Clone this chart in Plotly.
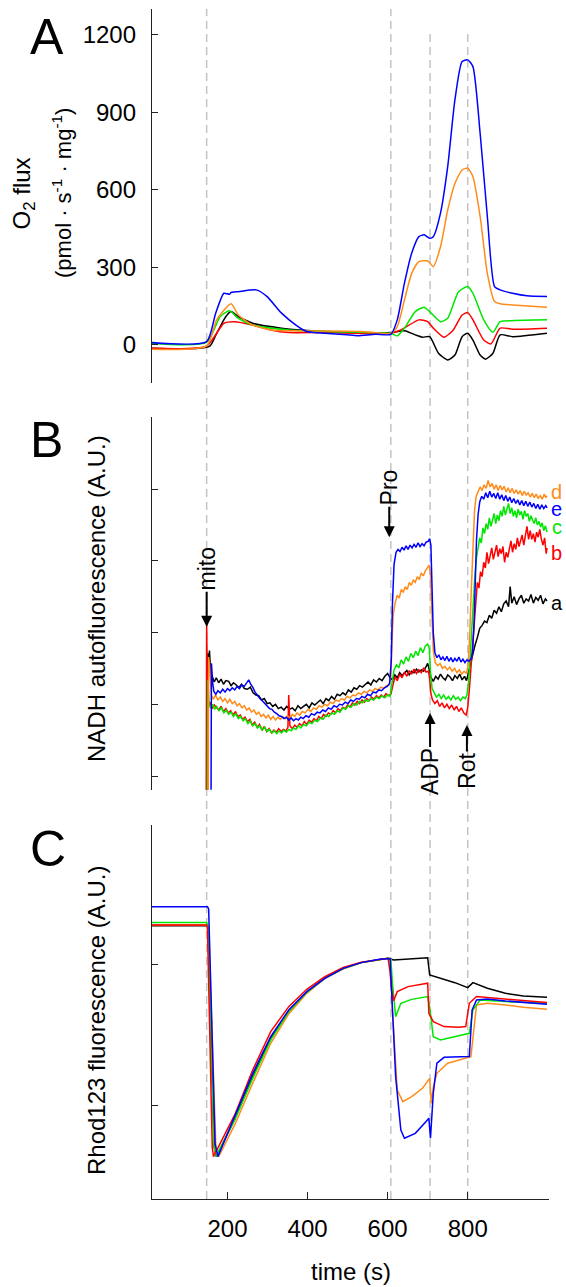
import plotly.graph_objects as go

# ---------------- Panel A: O2 flux ----------------
A_black_x = [11, 155, 173, 196, 209, 227, 263, 335, 443, 534, 608, 642, 669, 687, 705, 727, 750, 768, 786, 800, 813, 831, 845, 863, 881, 912, 998]
A_black_y = [-13, -6, 45, 110, 129, 110, 84, 65, 52, 48, 48, 55, 39, 30, 32, -32, -58, -39, 32, 45, 19, -39, -55, -32, 39, 32, 45]
A_red_x = [11, 148, 191, 218, 263, 308, 353, 443, 608, 633, 678, 700, 714, 741, 764, 786, 800, 813, 840, 858, 881, 912, 998]
A_red_y = [-13, -4, 84, 90, 77, 58, 48, 48, 45, 58, 97, 90, 65, 30, 58, 116, 125, 97, 19, 4, 65, 61, 65]
A_green_x = [11, 148, 182, 205, 227, 263, 353, 443, 534, 608, 624, 642, 669, 691, 705, 732, 750, 777, 800, 813, 840, 863, 881, 912, 998]
A_green_y = [6, 10, 110, 132, 103, 77, 58, 52, 49, 45, 35, 65, 129, 146, 129, 90, 103, 206, 226, 200, 97, 49, 90, 94, 97]
A_orange_x = [11, 148, 173, 209, 227, 263, 308, 353, 443, 534, 608, 624, 642, 660, 678, 700, 714, 732, 750, 768, 786, 800, 813, 831, 849, 867, 881, 912, 998]
A_orange_y = [-17, -4, 97, 159, 116, 77, 58, 55, 54, 52, 45, 71, 174, 277, 322, 325, 303, 380, 522, 625, 677, 684, 651, 497, 277, 168, 159, 155, 146]
A_blue_x = [11, 148, 170, 191, 205, 209, 227, 272, 299, 335, 371, 398, 443, 498, 525, 570, 608, 624, 642, 660, 678, 691, 705, 714, 732, 750, 768, 786, 800, 813, 831, 849, 867, 881, 912, 948, 998]
A_blue_y = [9, 13, 120, 200, 196, 203, 206, 213, 187, 123, 77, 52, 45, 39, 36, 41, 41, 97, 239, 355, 419, 426, 413, 419, 510, 690, 948, 1097, 1103, 1077, 819, 497, 226, 213, 200, 190, 187]
A_ticks = [0, 300, 600, 900, 1200]

# ---------------- Panel B: NADH autofluorescence (A.U.), (time, value) readings ----------------
B_black = [(150, -0.19), (151, 1.71), (153, 1.55), (155, 1.75), (158, 1.45), (162, 1.38), (167, 1.31), (172, 1.37), (178, 1.30), (184, 1.35), (190, 1.28), (196, 1.33), (203, 1.32), (209, 1.26), (215, 1.30), (222, 1.27), (228, 1.23), (235, 1.28), (242, 1.22), (250, 1.21), (257, 1.24), (264, 1.16), (271, 1.13), (278, 1.12), (285, 1.06), (292, 1.08), (299, 1.01), (306, 1.02), (313, 0.97), (320, 1.00), (327, 0.94), (334, 0.96), (341, 0.92), (348, 0.97), (355, 0.93), (362, 0.95), (369, 0.91), (376, 0.98), (383, 0.94), (390, 0.97), (397, 1.00), (404, 0.95), (411, 1.02), (418, 0.99), (425, 1.03), (432, 1.06), (439, 1.01), (446, 1.08), (453, 1.05), (460, 1.11), (467, 1.07), (474, 1.14), (481, 1.12), (488, 1.16), (495, 1.13), (502, 1.20), (509, 1.17), (516, 1.23), (523, 1.21), (530, 1.26), (537, 1.24), (544, 1.28), (551, 1.31), (558, 1.27), (565, 1.34), (572, 1.31), (579, 1.36), (586, 1.33), (593, 1.39), (600, 1.43), (606, 1.37), (612, 1.34), (618, 1.41), (624, 1.37), (630, 1.44), (636, 1.40), (642, 1.43), (648, 1.47), (654, 1.41), (660, 1.46), (666, 1.44), (672, 1.49), (678, 1.45), (684, 1.48), (690, 1.46), (696, 1.52), (700, 1.57), (704, 1.48), (708, 1.38), (714, 1.32), (720, 1.39), (726, 1.35), (732, 1.42), (738, 1.37), (744, 1.34), (750, 1.41), (756, 1.38), (762, 1.33), (768, 1.40), (774, 1.36), (780, 1.42), (786, 1.34), (792, 1.39), (797, 1.33), (802, 1.45), (807, 1.55), (812, 1.66), (818, 1.82), (824, 1.93), (830, 2.06), (836, 2.10), (842, 2.16), (848, 2.14), (854, 2.24), (860, 2.20), (866, 2.31), (872, 2.27), (878, 2.36), (884, 2.29), (890, 2.40), (896, 2.44), (902, 2.36), (906, 2.64), (910, 2.41), (916, 2.50), (922, 2.39), (928, 2.47), (934, 2.52), (940, 2.41), (946, 2.47), (952, 2.44), (958, 2.53), (964, 2.41), (970, 2.49), (976, 2.45), (982, 2.52), (988, 2.40), (994, 2.47), (998, 2.44)]
B_red = [(147, -0.19), (148, 2.13), (150, 1.10), (153, 0.98), (157, 1.03), (162, 0.94), (167, 0.99), (172, 0.95), (178, 0.92), (184, 0.97), (190, 0.90), (196, 0.94), (202, 0.88), (208, 0.91), (214, 0.85), (220, 0.90), (226, 0.83), (232, 0.85), (238, 0.79), (244, 0.82), (250, 0.76), (256, 0.79), (262, 0.71), (268, 0.75), (274, 0.68), (280, 0.72), (286, 0.64), (292, 0.69), (298, 0.62), (304, 0.66), (310, 0.60), (316, 0.64), (322, 0.61), (328, 0.66), (334, 0.62), (340, 0.65), (346, 0.63), (351, 0.68), (353, 1.13), (356, 0.70), (362, 0.66), (368, 0.71), (374, 0.68), (380, 0.73), (386, 0.70), (392, 0.76), (398, 0.72), (404, 0.78), (410, 0.75), (416, 0.80), (422, 0.77), (428, 0.83), (434, 0.80), (440, 0.86), (446, 0.83), (452, 0.88), (458, 0.86), (464, 0.91), (470, 0.88), (476, 0.94), (482, 0.91), (488, 0.96), (494, 0.94), (500, 0.99), (506, 0.96), (512, 1.02), (518, 0.99), (524, 1.04), (530, 1.01), (536, 1.06), (542, 1.03), (548, 1.08), (554, 1.05), (560, 1.10), (566, 1.07), (572, 1.12), (578, 1.09), (584, 1.13), (590, 1.10), (596, 1.15), (602, 1.12), (608, 1.14), (613, 1.28), (618, 1.38), (624, 1.33), (630, 1.42), (636, 1.37), (642, 1.45), (648, 1.39), (654, 1.47), (660, 1.42), (666, 1.49), (672, 1.43), (678, 1.48), (684, 1.44), (690, 1.51), (696, 1.45), (702, 1.46), (705, 1.35), (708, 1.15), (712, 1.06), (718, 1.01), (724, 1.05), (730, 0.97), (736, 1.02), (742, 0.95), (748, 1.00), (754, 0.94), (760, 0.99), (766, 0.92), (772, 0.97), (778, 0.90), (784, 0.95), (790, 0.88), (796, 0.85), (800, 0.95), (804, 1.20), (808, 1.50), (812, 1.80), (816, 2.10), (820, 2.45), (824, 2.70), (828, 2.62), (832, 2.85), (836, 2.78), (840, 2.98), (844, 2.90), (848, 3.12), (852, 2.96), (856, 3.08), (860, 3.18), (864, 3.02), (868, 3.14), (872, 3.22), (876, 3.06), (880, 3.17), (884, 3.10), (888, 3.20), (892, 2.98), (896, 3.12), (900, 3.05), (904, 3.18), (908, 3.28), (912, 3.12), (916, 3.24), (920, 3.16), (924, 3.32), (928, 3.20), (932, 3.30), (936, 3.36), (940, 3.22), (944, 3.34), (948, 3.48), (952, 3.30), (956, 3.42), (960, 3.30), (964, 3.38), (968, 3.26), (972, 3.40), (976, 3.33), (980, 3.44), (984, 3.30), (988, 3.22), (992, 3.32), (996, 3.10), (998, 3.18)]
B_green = [(150, -0.19), (151, 1.34), (154, 1.00), (158, 0.95), (163, 1.00), (168, 0.93), (173, 0.97), (179, 0.91), (185, 0.95), (191, 0.88), (197, 0.92), (203, 0.86), (209, 0.89), (215, 0.83), (221, 0.87), (227, 0.80), (233, 0.83), (239, 0.77), (245, 0.80), (251, 0.73), (257, 0.77), (263, 0.70), (269, 0.73), (275, 0.67), (281, 0.70), (287, 0.64), (293, 0.68), (299, 0.62), (305, 0.65), (311, 0.60), (317, 0.63), (323, 0.59), (329, 0.63), (335, 0.60), (341, 0.64), (347, 0.61), (353, 0.65), (359, 0.63), (365, 0.67), (371, 0.65), (377, 0.70), (383, 0.67), (390, 0.72), (397, 0.70), (404, 0.75), (411, 0.73), (418, 0.78), (425, 0.76), (432, 0.81), (439, 0.79), (446, 0.85), (453, 0.83), (460, 0.88), (467, 0.86), (474, 0.91), (481, 0.89), (488, 0.95), (495, 0.93), (502, 0.98), (509, 0.96), (516, 1.01), (523, 0.99), (530, 1.04), (537, 1.02), (544, 1.06), (551, 1.04), (558, 1.08), (565, 1.06), (572, 1.10), (579, 1.08), (586, 1.12), (593, 1.09), (600, 1.13), (606, 1.11), (611, 1.30), (616, 1.48), (622, 1.55), (628, 1.51), (634, 1.62), (640, 1.56), (646, 1.66), (652, 1.60), (658, 1.71), (664, 1.65), (670, 1.74), (676, 1.68), (682, 1.79), (688, 1.72), (694, 1.81), (700, 1.84), (704, 1.78), (707, 1.45), (711, 1.22), (716, 1.16), (722, 1.10), (728, 1.14), (734, 1.08), (740, 1.13), (746, 1.07), (752, 1.11), (758, 1.06), (764, 1.12), (770, 1.07), (776, 1.10), (782, 1.05), (788, 1.10), (794, 1.08), (798, 1.13), (802, 1.30), (806, 1.65), (810, 2.05), (814, 2.45), (818, 2.80), (822, 3.05), (826, 3.20), (830, 3.32), (834, 3.25), (838, 3.46), (842, 3.38), (846, 3.52), (850, 3.44), (854, 3.60), (858, 3.48), (862, 3.58), (866, 3.66), (870, 3.52), (874, 3.64), (878, 3.56), (882, 3.70), (886, 3.62), (890, 3.76), (894, 3.64), (898, 3.72), (902, 3.80), (906, 3.66), (910, 3.74), (914, 3.62), (918, 3.70), (922, 3.60), (926, 3.72), (930, 3.64), (934, 3.69), (938, 3.58), (942, 3.70), (946, 3.62), (950, 3.66), (954, 3.55), (958, 3.63), (962, 3.57), (966, 3.52), (970, 3.60), (974, 3.50), (978, 3.55), (982, 3.47), (986, 3.53), (990, 3.42), (994, 3.49), (998, 3.40)]
B_orange = [(152, -0.19), (153, 1.66), (156, 1.50), (160, 1.12), (165, 1.07), (170, 1.13), (176, 1.06), (182, 1.10), (188, 1.04), (194, 1.08), (200, 1.02), (206, 1.07), (212, 1.01), (218, 1.04), (224, 0.98), (230, 1.01), (236, 0.95), (242, 0.98), (248, 0.92), (254, 0.95), (260, 0.89), (266, 0.92), (272, 0.86), (278, 0.89), (284, 0.83), (290, 0.86), (296, 0.81), (302, 0.85), (308, 0.79), (314, 0.83), (320, 0.78), (326, 0.82), (332, 0.79), (338, 0.83), (344, 0.80), (350, 0.84), (356, 0.81), (362, 0.86), (368, 0.83), (374, 0.88), (380, 0.85), (387, 0.90), (394, 0.88), (401, 0.93), (408, 0.90), (415, 0.95), (422, 0.93), (429, 0.98), (436, 0.96), (443, 1.00), (450, 0.98), (457, 1.03), (464, 1.01), (471, 1.06), (478, 1.04), (485, 1.08), (492, 1.06), (499, 1.11), (506, 1.09), (513, 1.13), (520, 1.12), (527, 1.16), (534, 1.14), (541, 1.18), (548, 1.16), (555, 1.20), (562, 1.18), (569, 1.22), (576, 1.20), (583, 1.24), (590, 1.22), (597, 1.26), (604, 1.27), (608, 1.40), (611, 1.90), (614, 2.25), (619, 2.42), (624, 2.52), (629, 2.48), (634, 2.60), (639, 2.56), (644, 2.64), (649, 2.60), (654, 2.70), (659, 2.66), (664, 2.73), (669, 2.70), (674, 2.78), (679, 2.74), (684, 2.83), (689, 2.79), (694, 2.86), (699, 2.90), (704, 2.94), (707, 2.80), (710, 2.30), (714, 1.75), (719, 1.58), (725, 1.54), (731, 1.57), (737, 1.50), (743, 1.53), (749, 1.48), (755, 1.52), (761, 1.46), (767, 1.50), (773, 1.44), (779, 1.48), (785, 1.42), (791, 1.46), (797, 1.43), (801, 1.55), (805, 1.95), (809, 2.60), (813, 3.25), (817, 3.70), (821, 3.90), (826, 3.98), (831, 4.03), (836, 3.98), (841, 4.06), (846, 4.01), (851, 4.12), (856, 4.03), (861, 4.08), (866, 4.00), (871, 4.06), (876, 3.98), (881, 4.05), (886, 3.99), (891, 4.04), (896, 3.96), (901, 4.02), (906, 3.95), (911, 4.01), (916, 3.94), (921, 3.99), (926, 3.93), (931, 3.98), (936, 3.91), (941, 3.97), (946, 3.92), (951, 3.95), (956, 3.89), (961, 3.94), (966, 3.88), (971, 3.93), (976, 3.87), (981, 3.91), (986, 3.86), (991, 3.93), (995, 3.88), (998, 3.91)]
B_blue = [(159, -0.19), (160, 1.57), (163, 1.30), (166, 1.18), (171, 1.14), (176, 1.19), (182, 1.16), (188, 1.21), (194, 1.17), (200, 1.22), (206, 1.19), (212, 1.23), (218, 1.20), (224, 1.25), (230, 1.22), (236, 1.27), (242, 1.25), (248, 1.31), (253, 1.34), (258, 1.28), (263, 1.24), (269, 1.17), (275, 1.12), (281, 1.08), (287, 1.05), (293, 1.01), (299, 0.98), (305, 0.94), (311, 0.93), (317, 0.89), (323, 0.87), (329, 0.84), (335, 0.83), (341, 0.80), (347, 0.82), (353, 0.78), (359, 0.81), (365, 0.77), (371, 0.80), (377, 0.78), (383, 0.82), (389, 0.80), (396, 0.84), (403, 0.82), (410, 0.87), (417, 0.85), (424, 0.89), (431, 0.88), (438, 0.92), (445, 0.90), (452, 0.95), (459, 0.93), (466, 0.98), (473, 0.96), (480, 1.00), (487, 0.99), (494, 1.03), (501, 1.01), (508, 1.06), (515, 1.04), (522, 1.08), (529, 1.07), (536, 1.11), (543, 1.09), (550, 1.14), (557, 1.12), (564, 1.17), (571, 1.16), (578, 1.20), (585, 1.19), (592, 1.23), (599, 1.25), (605, 1.29), (609, 1.60), (612, 2.40), (616, 2.95), (621, 3.12), (626, 3.16), (631, 3.13), (636, 3.19), (641, 3.15), (646, 3.21), (651, 3.16), (656, 3.22), (661, 3.18), (666, 3.23), (671, 3.19), (676, 3.25), (681, 3.20), (686, 3.24), (691, 3.21), (696, 3.26), (701, 3.27), (705, 3.31), (708, 3.22), (711, 2.60), (714, 2.00), (718, 1.72), (723, 1.65), (728, 1.69), (733, 1.62), (738, 1.66), (743, 1.61), (748, 1.67), (753, 1.60), (758, 1.65), (763, 1.59), (768, 1.64), (773, 1.60), (778, 1.66), (783, 1.59), (788, 1.63), (793, 1.58), (798, 1.62), (803, 1.60), (808, 1.63), (812, 1.72), (816, 2.15), (819, 2.80), (822, 3.30), (826, 3.65), (830, 3.82), (835, 3.90), (840, 3.86), (845, 3.95), (850, 3.88), (855, 3.97), (860, 3.89), (865, 3.94), (870, 3.87), (875, 3.95), (880, 3.86), (885, 3.92), (890, 3.84), (895, 3.91), (900, 3.83), (905, 3.89), (910, 3.81), (915, 3.87), (920, 3.80), (925, 3.85), (930, 3.78), (935, 3.84), (940, 3.77), (945, 3.83), (950, 3.76), (955, 3.82), (960, 3.75), (965, 3.80), (970, 3.73), (975, 3.79), (980, 3.72), (985, 3.78), (990, 3.73), (995, 3.77), (998, 3.74)]
B_ticks = [0, 1, 2, 3, 4]

# ---------------- Panel C: Rhod123 fluorescence (A.U.) ----------------
C_black_x = [11, 150, 152, 167, 172, 218, 263, 308, 353, 398, 443, 489, 534, 579, 601, 615, 660, 700, 705, 732, 768, 800, 813, 849, 894, 939, 998]
C_black_y = [2.28, 2.28, 2.26, 0.70, 0.634, 0.90, 1.204, 1.478, 1.670, 1.805, 1.905, 1.975, 2.017, 2.041, 2.048, 2.036, 2.043, 2.052, 1.929, 1.905, 1.874, 1.839, 1.874, 1.834, 1.798, 1.779, 1.77]
C_red_x = [11, 148, 150, 162, 165, 218, 263, 308, 353, 398, 443, 489, 534, 579, 601, 606, 610, 615, 624, 651, 678, 700, 703, 714, 741, 777, 795, 804, 822, 894, 998]
C_red_y = [2.285, 2.285, 2.26, 0.70, 0.634, 0.931, 1.252, 1.525, 1.703, 1.827, 1.917, 1.982, 2.020, 2.042, 2.048, 1.95, 1.822, 1.746, 1.81, 1.846, 1.858, 1.87, 1.656, 1.596, 1.561, 1.556, 1.561, 1.727, 1.775, 1.756, 1.732]
C_green_x = [11, 148, 151, 166, 171, 218, 263, 308, 353, 398, 443, 489, 534, 579, 601, 608, 612, 620, 633, 660, 700, 705, 709, 714, 732, 768, 804, 813, 831, 894, 998]
C_green_y = [2.302, 2.302, 2.28, 0.72, 0.634, 0.895, 1.192, 1.466, 1.668, 1.805, 1.908, 1.975, 2.017, 2.041, 2.048, 2.04, 1.87, 1.632, 1.727, 1.755, 1.775, 1.70, 1.608, 1.489, 1.466, 1.489, 1.513, 1.679, 1.751, 1.739, 1.727]
C_orange_x = [11, 150, 153, 171, 178, 218, 263, 308, 353, 398, 443, 489, 534, 579, 601, 608, 612, 624, 638, 660, 687, 705, 709, 714, 723, 750, 795, 808, 822, 849, 894, 939, 998]
C_orange_y = [2.285, 2.285, 2.27, 0.70, 0.634, 0.86, 1.157, 1.442, 1.651, 1.798, 1.905, 1.972, 2.017, 2.040, 2.048, 2.04, 1.679, 1.109, 1.026, 1.062, 1.121, 1.192, 1.014, 1.13, 1.228, 1.30, 1.335, 1.347, 1.715, 1.727, 1.715, 1.698, 1.684]
C_blue_x = [11, 150, 153, 169, 176, 218, 263, 308, 353, 398, 443, 489, 534, 579, 601, 606, 620, 633, 642, 669, 696, 703, 707, 714, 723, 741, 804, 811, 822, 849, 894, 939, 998]
C_blue_y = [2.416, 2.416, 2.40, 0.729, 0.634, 0.919, 1.228, 1.489, 1.679, 1.81, 1.905, 1.976, 2.017, 2.041, 2.048, 2.046, 1.204, 0.824, 0.765, 0.80, 0.884, 0.907, 0.765, 1.086, 1.30, 1.342, 1.347, 1.679, 1.751, 1.758, 1.744, 1.732, 1.72]
C_ticks = [1, 2]

X_ticks = [200, 400, 600, 800]
event_times = [148, 608, 706, 800]
event_tops = [1.0, 1.0, 0.982, 0.982]
series_labels = ["a", "b", "c", "d", "e"]
label_levels = [2.41, 3.11, 3.47, 3.96, 3.72]

COL = {"a": "#000000", "b": "#ff0000", "c": "#00e600", "d": "#ff8c1a", "e": "#0000ff"}
FONT = "Liberation Sans, Arial, sans-serif"

fig = go.Figure()

def add(xs, ys, col, xa, ya, shape="linear"):
    fig.add_trace(go.Scatter(x=xs, y=ys, mode="lines", xaxis=xa, yaxis=ya,
                             line=dict(color=col, width=1.5, shape=shape, smoothing=0.6),
                             showlegend=False, hoverinfo="skip"))

def add_pts(pts, col, xa, ya):
    add([p[0] for p in pts], [p[1] for p in pts], col, xa, ya)

add(A_black_x, A_black_y, COL["a"], "x", "y", "spline")
add(A_red_x, A_red_y, COL["b"], "x", "y", "spline")
add(A_green_x, A_green_y, COL["c"], "x", "y", "spline")
add(A_orange_x, A_orange_y, COL["d"], "x", "y", "spline")
add(A_blue_x, A_blue_y, COL["e"], "x", "y", "spline")

add_pts(B_black, COL["a"], "x2", "y2")
add_pts(B_red, COL["b"], "x2", "y2")
add_pts(B_green, COL["c"], "x2", "y2")
add_pts(B_orange, COL["d"], "x2", "y2")
add_pts(B_blue, COL["e"], "x2", "y2")

add(C_black_x, C_black_y, COL["a"], "x3", "y3")
add(C_orange_x, C_orange_y, COL["d"], "x3", "y3")
add(C_green_x, C_green_y, COL["c"], "x3", "y3")
add(C_red_x, C_red_y, COL["b"], "x3", "y3")
add(C_blue_x, C_blue_y, COL["e"], "x3", "y3")

XR = [11.5, 1003]
hidden_x = dict(range=XR, showline=False, showticklabels=False, ticks="", showgrid=False, zeroline=False)
yax_common = dict(showline=True, linecolor="#222", linewidth=1.3, ticks="inside", ticklen=6,
                  tickcolor="#222", showgrid=False, zeroline=False)

# event dashed lines
for t, top in zip(event_times, event_tops):
    fig.add_shape(type="line", xref="x3", yref="paper", x0=t, x1=t, y0=0, y1=top,
                  line=dict(color="#c4c4c4", width=1.5, dash="8px,5px"), layer="below")

ann = []
def txt(text, x, y, size, angle=0, color="black", xref="paper", yref="paper"):
    ann.append(dict(text=text, x=x, y=y, xref=xref, yref=yref, showarrow=False,
                    textangle=angle, font=dict(size=size, color=color, family=FONT),
                    xanchor="center", yanchor="middle"))

txt("A", -0.2652, 0.9768, 50)
txt("B", -0.2652, 0.6378, 50)
txt("C", -0.262, 0.2941, 50)
txt("O<sub>2</sub> flux", -0.3237, 0.8454, 24, -90)
txt("(pmol · s<sup>-1</sup> · mg<sup>-1</sup>)", -0.2267, 0.8454, 22, -90)
txt("NADH autofluorescence (A.U.)", -0.141, 0.5042, 24, -90)
txt("Rhod123 fluorescence (A.U.)", -0.141, 0.1504, 24, -90)
txt("time (s)", 0.501, -0.0611, 24)

for lab, lev in zip(series_labels, label_levels):
    txt(lab, 1.019, lev, 20, 0, COL[lab], "paper", "y2")

def arrow(text, x, y, ay):
    ann.append(dict(text=text, x=x, y=y, xref="x2", yref="y2", ax=0, ay=ay,
                    showarrow=True, arrowhead=2, arrowsize=1.1, arrowwidth=2, arrowcolor="black",
                    textangle=-90, font=dict(size=23, color="black", family=FONT)))

arrow("mito", 148, 2.08, -58)
arrow("Pro", 604, 3.33, -50)
arrow("ADP", 706, 0.878, 59)
arrow("Rot", 798, 0.711, 46)

fig.update_layout(
    width=566, height=1287,
    margin=dict(l=152, r=17, t=9, b=88),
    paper_bgcolor="white", plot_bgcolor="white",
    font=dict(family=FONT, size=24, color="black"),
    showlegend=False,
    xaxis=dict(domain=[0, 1], anchor="y", **hidden_x),
    xaxis2=dict(domain=[0, 1], anchor="y2", **hidden_x),
    xaxis3=dict(domain=[0, 1], anchor="y3", range=XR, showline=True, linecolor="#222", linewidth=1.3,
                ticks="inside", ticklen=7, tickcolor="#222", tickvals=X_ticks, showgrid=False,
                zeroline=False, tickfont=dict(size=24), ticklabelstandoff=8),
    yaxis=dict(domain=[0.686, 1.0], anchor="x", range=[-146, 1300], tickvals=A_ticks,
               tickfont=dict(size=24), ticklabelstandoff=10, **yax_common),
    yaxis2=dict(domain=[0.3437, 0.6574], anchor="x2", range=[-0.195, 5.01], tickvals=B_ticks,
                showticklabels=False, **yax_common),
    yaxis3=dict(domain=[0.0, 0.3143], anchor="x3", range=[0.332, 2.998], tickvals=C_ticks,
                showticklabels=False, **yax_common),
    annotations=ann,
)

# remove the default page margin so the 566x1287 figure fills the window exactly
fig.write_html("out.html", config={"displayModeBar": False},
               post_script="document.body.style.margin='0px';document.body.style.overflow='hidden';")
